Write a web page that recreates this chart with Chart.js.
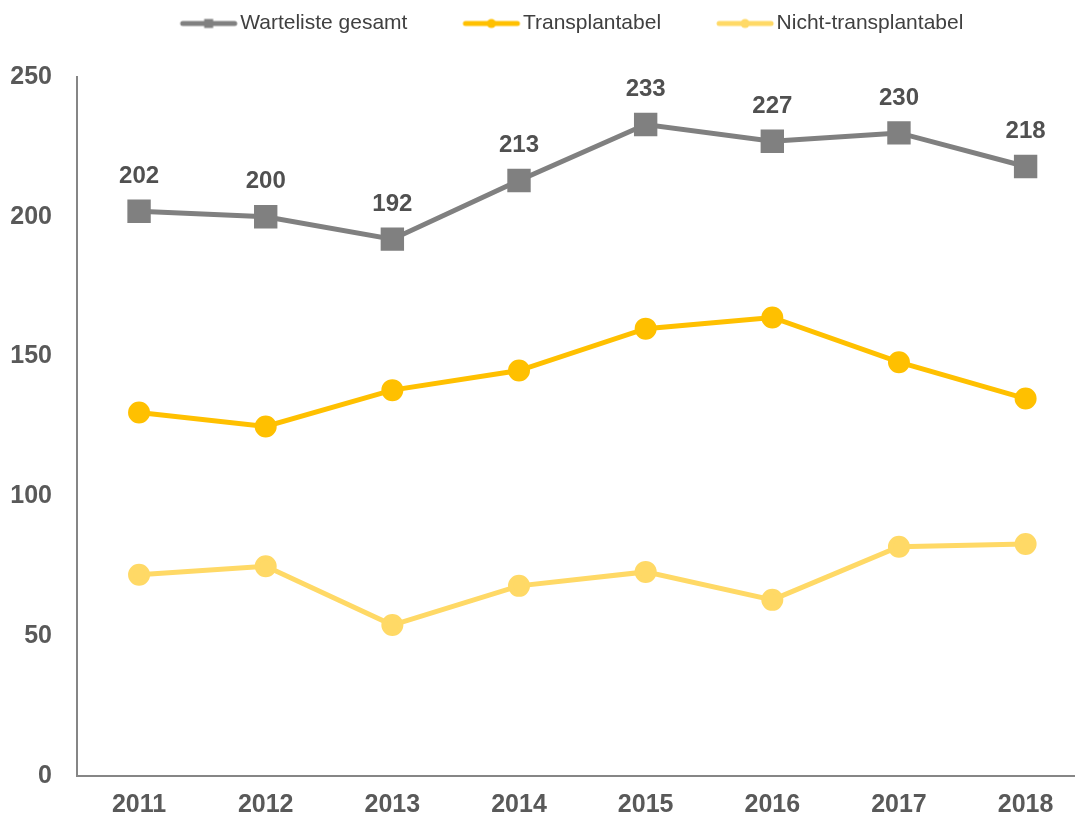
<!DOCTYPE html>
<html>
<head>
<meta charset="utf-8">
<script src="https://cdn.jsdelivr.net/npm/chart.js@4"></script>
<style>
  html, body { margin: 0; padding: 0; background: #fff; overflow: hidden; }
</style>
</head>
<body>
<canvas id="chart" width="1075" height="820"></canvas>
<script>
const years = ['2011', '2012', '2013', '2014', '2015', '2016', '2017', '2018'];
const warteliste = [202, 200, 192, 213, 233, 227, 230, 218];
const transplantabel = [130, 125, 138, 145, 160, 164, 148, 135];
const nichtTransplantabel = [72, 75, 54, 68, 73, 63, 82, 83];
const yTicks = [0, 50, 100, 150, 200, 250];

const fontFamily = '"Liberation Sans", Arial, sans-serif';

// years sit on x = 0..7; the range is cut on the right like the original
function toPoints(values) {
    return values.map((v, i) => ({ x: i, y: v }));
}

// legend icon: a short line with the marker in the middle
// (drawn a bit wider than the legend box so it ends close to the text)
function legendIcon(color, marker) {
    const c = document.createElement('canvas');
    c.width = 76;
    c.height = 14;
    const g = c.getContext('2d');
    g.strokeStyle = color;
    g.fillStyle = color;
    g.lineWidth = 5;
    g.lineCap = 'round';
    g.beginPath();
    g.moveTo(20, 7);
    g.lineTo(72, 7);
    g.stroke();
    if (marker === 'rect') {
        g.fillRect(41.5, 2.5, 9, 9);
    } else {
        g.beginPath();
        g.arc(46, 7, 4.5, 0, Math.PI * 2);
        g.fill();
    }
    return c;
}

// small inline label plugin: values above the first series only
const valueLabels = {
    id: 'valueLabels',
    afterDatasetsDraw(chart) {
        const ctx = chart.ctx;
        const meta = chart.getDatasetMeta(0);
        ctx.save();
        ctx.font = 'bold 24px ' + fontFamily;
        ctx.fillStyle = '#505050';
        ctx.textAlign = 'center';
        ctx.textBaseline = 'middle';
        meta.data.forEach((pt, i) => {
            ctx.fillText(warteliste[i], pt.x, pt.y - 35);
        });
        ctx.restore();
    }
};

// legend sits near the top, plot starts lower
const legendSpace = {
    id: 'legendSpace',
    beforeInit(chart) {
        const fit = chart.legend.fit;
        chart.legend.fit = function () {
            fit.bind(chart.legend)();
            this.height = 77;
        };
    },
    afterLayout(chart) {
        chart.legend.left += 25;
        chart.legend.right += 25;
        chart.legend.top -= 34;
        chart.legend.bottom -= 34;
    }
};

const series = [
    { label: 'Warteliste gesamt', data: warteliste, color: '#808080', marker: 'rect', radius: 13 },
    { label: 'Transplantabel', data: transplantabel, color: '#FFC000', marker: 'circle', radius: 8.5 },
    { label: 'Nicht-transplantabel', data: nichtTransplantabel, color: '#FFD966', marker: 'circle', radius: 8.5 }
];

const ctx = document.getElementById('chart').getContext('2d');
const chart = new Chart(ctx, {
    type: 'line',
    plugins: [valueLabels, legendSpace],
    data: {
        datasets: series.map(s => ({
            label: s.label,
            data: toPoints(s.data),
            borderColor: s.color,
            backgroundColor: s.color,
            borderWidth: 5,
            pointStyle: s.marker,
            pointRadius: s.radius,
            pointHoverRadius: s.radius,
            legendIcon: legendIcon(s.color, s.marker)
        }))
    },
    options: {
        responsive: false,
        animation: false,
        layout: {
            autoPadding: false,
            padding: { top: 0, left: 10, right: 0, bottom: 0 }
        },
        scales: {
            x: {
                type: 'linear',
                min: -0.49,
                max: 7.39,
                afterBuildTicks(scale) {
                    scale.ticks = years.map((y, i) => ({ value: i }));
                },
                afterFit(scale) {
                    scale.height = 44;
                    scale.paddingLeft = 0;
                    scale.paddingRight = 0;
                },
                grid: { display: false, drawTicks: false },
                border: { color: '#868686', width: 2 },
                ticks: {
                    color: '#595959',
                    padding: 14,
                    maxRotation: 0,
                    callback: (value) => years[value],
                    font: { size: 25, weight: 'bold', family: fontFamily }
                }
            },
            y: {
                min: 0,
                max: 250,
                afterBuildTicks(scale) {
                    scale.ticks = yTicks.map(v => ({ value: v }));
                },
                afterFit(scale) { scale.width = 67; },
                grid: { display: false, drawTicks: false },
                border: { color: '#868686', width: 2 },
                ticks: {
                    color: '#595959',
                    padding: 25,
                    font: { size: 25, weight: 'bold', family: fontFamily }
                }
            }
        },
        plugins: {
            tooltip: { enabled: false },
            legend: {
                position: 'top',
                labels: {
                    color: '#404040',
                    usePointStyle: true,
                    pointStyleWidth: 58,
                    padding: 47,
                    font: { size: 21, family: fontFamily },
                    generateLabels(chart) {
                        return chart.data.datasets.map((ds, i) => ({
                            text: ds.label,
                            fillStyle: ds.borderColor,
                            strokeStyle: ds.borderColor,
                            fontColor: '#404040',
                            lineWidth: 0,
                            pointStyle: ds.legendIcon,
                            hidden: false,
                            datasetIndex: i
                        }));
                    }
                }
            }
        }
    }
});
</script>
</body>
</html>
